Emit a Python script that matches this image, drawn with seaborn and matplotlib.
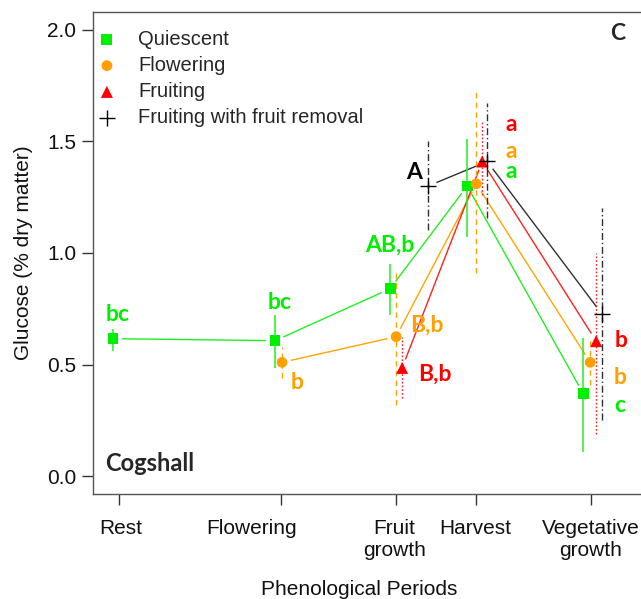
import numpy as np
import pandas as pd
import matplotlib
matplotlib.use("Agg")
import matplotlib.pyplot as plt
import seaborn as sns

# Phenological periods and their positions on the time axis
periods = ["Rest", "Flowering", "Fruit\ngrowth", "Harvest", "Vegetative\ngrowth"]
period_pos = [1.0, 2.0, 2.71, 3.20, 3.91]

# Glucose (% dry matter) per shoot group: sampling positions, means, error bar ends
quiescent_x = [0.963, 1.963, 2.673, 3.148, 3.864]
quiescent_y = [0.616, 0.607, 0.84, 1.30, 0.37]
quiescent_lo = [0.56, 0.485, 0.72, 1.07, 0.11]
quiescent_hi = [0.66, 0.72, 0.95, 1.51, 0.62]

flowering_x = [2.006, 2.71, 3.204, 3.907]
flowering_y = [0.51, 0.625, 1.31, 0.51]
flowering_lo = [0.44, 0.32, 0.91, 0.41]
flowering_hi = [0.58, 0.93, 1.72, 0.61]

fruiting_x = [2.747, 3.241, 3.944]
fruiting_y = [0.485, 1.41, 0.605]
fruiting_lo = [0.35, 1.26, 0.19]
fruiting_hi = [0.625, 1.59, 1.0]

removal_x = [2.907, 3.272, 3.981]
removal_y = [1.30, 1.41, 0.725]
removal_lo = [1.105, 1.155, 0.25]
removal_hi = [1.50, 1.67, 1.20]

# Significance letters: (text, x, y, group)
letters = [
    ("bc", 0.994, 0.726, "Quiescent"),
    ("bc", 1.994, 0.78, "Quiescent"),
    ("AB,b", 2.673, 1.036, "Quiescent"),
    ("a", 3.42, 1.363, "Quiescent"),
    ("c", 4.09, 0.318, "Quiescent"),
    ("b", 2.10, 0.42, "Flowering"),
    ("B,b", 2.90, 0.677, "Flowering"),
    ("a", 3.42, 1.453, "Flowering"),
    ("b", 4.09, 0.444, "Flowering"),
    ("B,b", 2.95, 0.457, "Fruiting"),
    ("a", 3.42, 1.578, "Fruiting"),
    ("b", 4.10, 0.61, "Fruiting"),
    ("A", 2.82, 1.36, "Fruiting with fruit removal"),
]

groups = ["Quiescent", "Flowering", "Fruiting", "Fruiting with fruit removal"]
colors = {"Quiescent": "#00ee00", "Flowering": "#ffa000",
          "Fruiting": "#ff0000", "Fruiting with fruit removal": "#000000"}
line_colors = {"Quiescent": "#22ee22", "Flowering": "#ffa500",
               "Fruiting": "#ff2020", "Fruiting with fruit removal": "#303030"}
markers = {"Quiescent": "s", "Flowering": "o", "Fruiting": "^",
           "Fruiting with fruit removal": "+"}
err_styles = {"Quiescent": "-", "Flowering": (0, (4, 3)),
              "Fruiting": (0, (1.2, 1.5)), "Fruiting with fruit removal": (0, (5, 2, 1, 2))}

frames = []
for g, xs, ys, lo, hi in [
    ("Quiescent", quiescent_x, quiescent_y, quiescent_lo, quiescent_hi),
    ("Flowering", flowering_x, flowering_y, flowering_lo, flowering_hi),
    ("Fruiting", fruiting_x, fruiting_y, fruiting_lo, fruiting_hi),
    ("Fruiting with fruit removal", removal_x, removal_y, removal_lo, removal_hi),
]:
    frames.append(pd.DataFrame({"group": g, "x": xs, "y": ys, "lo": lo, "hi": hi}))
df = pd.concat(frames, ignore_index=True)

sns.set_theme(style="white")
plt.rcParams["font.family"] = ["Liberation Sans", "DejaVu Sans"]

fig = plt.figure(figsize=(6.41, 5.99), dpi=100)
ax = fig.add_axes([0.1451, 0.1753, 0.875, 0.8047])
ax.set_xlim(0.84, 4.30)
ax.set_ylim(-0.08, 2.08)

# Connecting lines, trimmed near each point
gap = 9.0
for g in groups:
    sub = df[df.group == g]
    pts = ax.transData.transform(np.column_stack([sub.x, sub.y]))
    for p0, p1 in zip(pts[:-1], pts[1:]):
        d = p1 - p0
        L = np.hypot(*d)
        u = d / L
        a = ax.transData.inverted().transform(p0 + u * gap)
        b = ax.transData.inverted().transform(p1 - u * gap)
        ax.plot([a[0], b[0]], [a[1], b[1]], color=line_colors[g], lw=1.0,
                solid_capstyle="butt")

# Error bars
for g in groups:
    sub = df[df.group == g]
    ax.vlines(sub.x, sub.lo, sub.hi, colors=line_colors[g], linestyles=[err_styles[g]],
              lw=1.1 if g == "Quiescent" else 1.0)

# Means
for g in groups:
    sub = df[df.group == g]
    if markers[g] == "+":
        sns.scatterplot(data=sub, x="x", y="y", marker="+", s=140, color=colors[g],
                        linewidth=1.0, ax=ax, label=g, zorder=5)
    else:
        size = 75 if markers[g] == "^" else 60
        sns.scatterplot(data=sub, x="x", y="y", marker=markers[g], s=size,
                        color=colors[g], edgecolor="none", ax=ax, label=g, zorder=5)

for txt, x, y, g in letters:
    ax.text(x, y, txt, color=colors[g], fontsize=16.5, fontweight="bold",
            family=["Lato", "DejaVu Sans"], ha="center", va="center", zorder=6)

ax.text(0.936, 0.955, "C", transform=ax.transAxes, fontsize=16.5, fontweight="bold",
        family=["Lato", "DejaVu Sans"], ha="center", va="center")
ax.text(0.021, 0.064, "Cogshall", transform=ax.transAxes, fontsize=17, fontweight="bold",
        family=["Lato", "DejaVu Sans"], ha="left", va="center")

leg = ax.legend(loc="upper left", frameon=False, fontsize=14.5, handletextpad=1.15,
                handlelength=0.8, borderaxespad=0.0, labelspacing=0.36,
                bbox_to_anchor=(-0.004, 0.98))

# Axes styling
for s in ax.spines.values():
    s.set_color("#555555")
    s.set_linewidth(1.0)
ax.set_yticks([0.0, 0.5, 1.0, 1.5, 2.0])
ax.set_yticklabels(["0.0", "0.5", "1.0", "1.5", "2.0"], fontsize=15, color="#111111")
ax.set_xticks(period_pos)
ax.set_xticklabels([])
ax.tick_params(axis="both", direction="out", length=8, width=1.0, color="#333333",
               left=True, bottom=True, pad=4)

# Period labels below the ticks
label_x = [1.01, 1.82, 2.70, 3.20, 3.91]
for name, x in zip(periods, label_x):
    ax.text(x, -0.19, name, fontsize=15, ha="center", va="top", linespacing=1.2,
            color="#111111")

ax.set_ylabel("Glucose (% dry matter)", fontsize=15, labelpad=10, color="#111111")
fig.text(0.56, 0.0, "Phenological Periods", fontsize=15, ha="center", va="bottom",
         color="#111111")
ax.set_xlabel("")

fig.savefig("out.png", dpi=100)
